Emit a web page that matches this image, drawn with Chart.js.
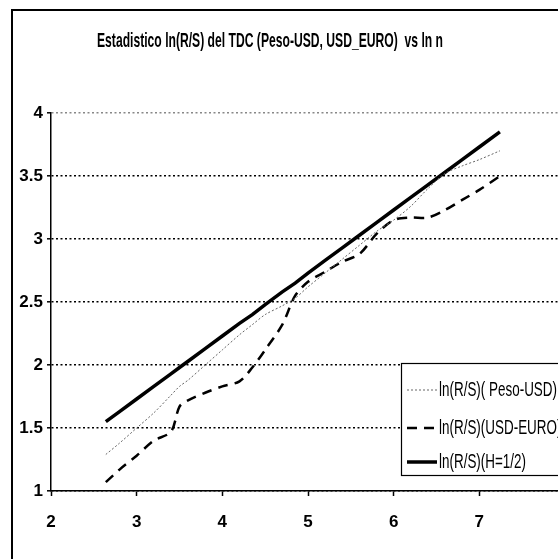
<!DOCTYPE html>
<html>
<head>
<meta charset="utf-8">
<script src="https://cdn.jsdelivr.net/npm/chart.js@4"></script>
<style>
    html, body { margin: 0; padding: 0; background: #fff; overflow: hidden; }
    #wrap { width: 558px; height: 559px; overflow: hidden; position: relative; }
    canvas { position: absolute; left: 0; top: 0; }
</style>
</head>
<body>
<div id="wrap"><canvas id="rsChart" width="620" height="559"></canvas></div>
<script>
/* ── Data ────────────────────────────────────────────────────── */
const lnN       = [2.64, 2.8, 3.0, 3.2, 3.4, 3.5, 3.6, 3.8, 4.0, 4.2, 4.35, 4.5, 4.7,
                   4.85, 5.0, 5.2, 5.4, 5.6, 5.8, 6.0, 6.2, 6.4, 6.6, 6.8, 7.0, 7.24];
const pesoUsd   = [1.29, 1.38, 1.50, 1.62, 1.76, 1.83, 1.88, 2.00, 2.12, 2.24, 2.32, 2.40, 2.47,
                   2.53, 2.62, 2.73, 2.84, 2.95, 3.06, 3.15, 3.26, 3.40, 3.52, 3.58, 3.63, 3.70];
const usdEuro   = [1.07, 1.17, 1.28, 1.40, 1.47, 1.67, 1.72, 1.78, 1.83, 1.87, 1.98, 2.12, 2.32,
                   2.55, 2.66, 2.74, 2.82, 2.88, 3.04, 3.15, 3.17, 3.17, 3.23, 3.31, 3.39, 3.50];
const hHalf     = [1.55, 1.63, 1.73, 1.83, 1.93, 1.98, 2.03, 2.13, 2.23, 2.33, 2.40, 2.48, 2.58,
                   2.65, 2.73, 2.83, 2.93, 3.03, 3.13, 3.23, 3.33, 3.43, 3.53, 3.63, 3.73, 3.85];
const seriesNames = ['ln(R/S)( Peso-USD)', 'ln(R/S)(USD-EURO)', 'ln(R/S)(H=1/2)'];
const xTicks    = [2, 3, 4, 5, 6, 7, 8];
const yTicks    = [1, 1.5, 2, 2.5, 3, 3.5, 4];
const chartTitle = 'Estadistico ln(R/S) del TDC (Peso-USD, USD_EURO)  vs ln n';

const FONT = "'Liberation Sans', Arial, sans-serif";

const toPoints = ys => lnN.map((x, i) => ({ x: x, y: ys[i] }));

// draw text squeezed horizontally (the original uses a narrow typeface)
function narrowText(c, text, x, y, squeeze) {
    c.save();
    c.translate(x, y);
    c.scale(squeeze, 1);
    c.fillText(text, 0, 0);
    c.restore();
}

/* ── Frame, title and legend ─────────────────────────────────── */
const framePlugin = {
    id: 'frame',
    beforeDraw(chart) {
        const c = chart.ctx;
        c.save();
        c.fillStyle = '#fff';
        c.fillRect(0, 0, chart.width, chart.height);
        c.strokeStyle = '#000';
        c.lineWidth = 2;
        c.beginPath();
        c.moveTo(12, chart.height + 5);
        c.lineTo(12, 10);
        c.lineTo(chart.width + 5, 10);
        c.stroke();

        c.fillStyle = '#000';
        c.font = 'bold 21px ' + FONT;
        c.textAlign = 'center';
        c.textBaseline = 'middle';
        const w = c.measureText(chartTitle).width;
        narrowText(c, chartTitle, 270, 41, 346 / w);
        c.restore();
    },
    afterDatasetsDraw(chart) {
        const c = chart.ctx;
        const bx = 401, by = 363, bw = 190, bh = 112;
        c.save();
        c.fillStyle = '#fff';
        c.fillRect(bx, by, bw, bh);
        c.strokeStyle = '#000';
        c.lineWidth = 1.2;
        c.strokeRect(bx + 0.5, by + 0.5, bw, bh);

        c.font = '21px ' + FONT;
        const squeeze = 118 / c.measureText(seriesNames[0]).width;
        const rows = [390, 428, 462];
        chart.data.datasets.forEach((ds, i) => {
            const y = rows[i];
            c.strokeStyle = ds.borderColor;
            c.lineWidth = ds.borderWidth;
            c.setLineDash(ds.borderDash || []);
            c.beginPath();
            c.moveTo(407, y);
            c.lineTo(437, y);
            c.stroke();
            c.setLineDash([]);
            c.fillStyle = '#000';
            c.textAlign = 'left';
            c.textBaseline = 'middle';
            narrowText(c, ds.label, 439, y, squeeze);
        });
        c.restore();
    }
};

/* ── Chart ───────────────────────────────────────────────────── */
new Chart(document.getElementById('rsChart'), {
    type: 'line',
    data: {
        datasets: [
            {
                label: seriesNames[0],
                data: toPoints(pesoUsd),
                borderColor: '#666',
                borderWidth: 1,
                borderDash: [2, 2],
                pointRadius: 0,
                tension: 0.3
            },
            {
                label: seriesNames[1],
                data: toPoints(usdEuro),
                borderColor: '#000',
                borderWidth: 2.5,
                borderDash: [10, 7],
                pointRadius: 0,
                tension: 0.3
            },
            {
                label: seriesNames[2],
                data: toPoints(hHalf),
                borderColor: '#000',
                borderWidth: 3.5,
                pointRadius: 0,
                tension: 0
            }
        ]
    },
    options: {
        responsive: false,
        animation: false,
        devicePixelRatio: 1,
        layout: { padding: { left: 12, top: 113, right: 55, bottom: 0 } },
        plugins: {
            legend: { display: false },
            title: { display: false },
            tooltip: { enabled: false }
        },
        scales: {
            x: {
                type: 'linear',
                min: 2,
                max: 8,
                afterBuildTicks: s => { s.ticks = xTicks.map(v => ({ value: v })); },
                afterFit: s => { s.height = 68; },
                border: { color: '#000', width: 1.5 },
                grid: { drawOnChartArea: false, drawTicks: true, tickLength: 5, tickColor: '#000', tickWidth: 1.5 },
                ticks: {
                    color: '#000', padding: 16,
                    font: { family: FONT, size: 17, weight: 'bold' },
                    callback: v => String(v)
                }
            },
            y: {
                min: 1,
                max: 4,
                afterBuildTicks: s => { s.ticks = yTicks.map(v => ({ value: v })); },
                afterFit: s => { s.width = 39; },
                border: { color: '#000', width: 1.5, dash: [2, 2.5] },
                grid: {
                    color: ctx => ctx.tick && ctx.tick.value === 4 ? '#888' : '#000',
                    lineWidth: 1.6,
                    tickBorderDash: [],
                    tickLength: 4,
                    tickColor: '#000',
                    tickWidth: 1.5
                },
                ticks: {
                    color: '#000', padding: 4,
                    font: { family: FONT, size: 17, weight: 'bold' },
                    callback: v => String(v)
                }
            }
        }
    },
    plugins: [framePlugin]
});
</script>
</body>
</html>
